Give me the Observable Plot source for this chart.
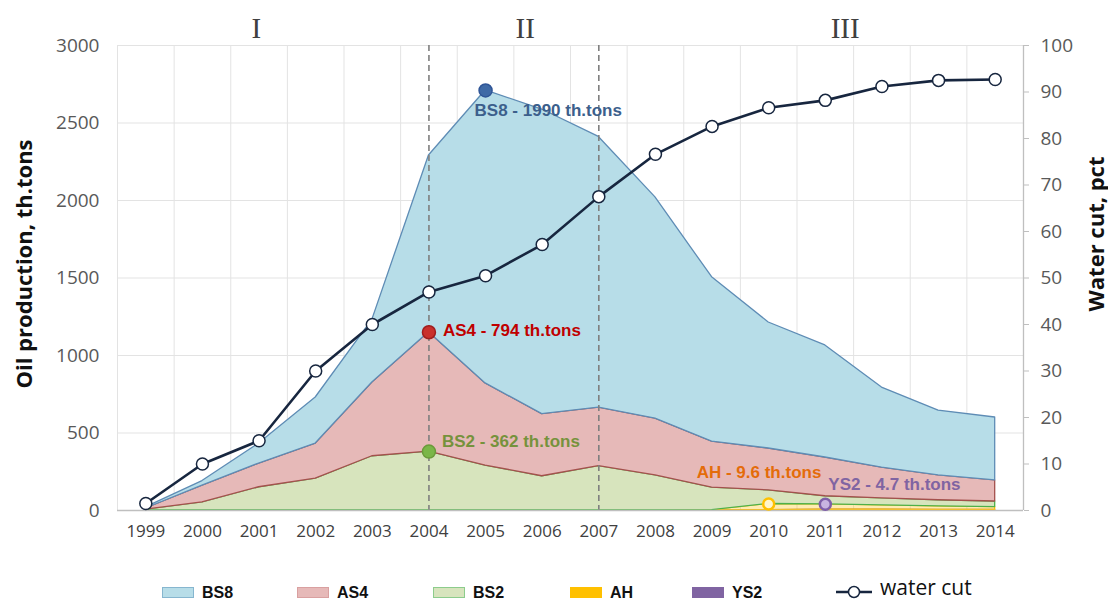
<!DOCTYPE html>
<html>
<head>
<meta charset="utf-8">
<script src="https://cdn.jsdelivr.net/npm/d3@7"></script>
<script src="https://cdn.jsdelivr.net/npm/@observablehq/plot@0.6"></script>
<style>
  html, body { margin: 0; padding: 0; background: #fff; }
  #chart { width: 1108px; height: 560px; }
  #chart svg { display: block; }
  #legend { position: relative; width: 1108px; height: 39px; font-family: "Liberation Sans", Arial, sans-serif; }
  .sw { position: absolute; top: 27px; width: 32px; height: 11px; box-sizing: border-box; }
  .lt { position: absolute; top: 23px; font-weight: bold; font-size: 16px; line-height: 19px; color: #111; }
</style>
</head>
<body>
<div id="chart"></div>
<div id="legend"></div>
<script>
// ---------- data ----------
const years = [1999, 2000, 2001, 2002, 2003, 2004, 2005, 2006, 2007, 2008, 2009, 2010, 2011, 2012, 2013, 2014];
const bs8 = [7, 30, 129, 297, 404, 1140, 1890, 1965, 1746, 1427, 1060, 813, 723, 516, 419, 406];
const as4 = [8, 108, 153, 227, 476, 770, 530, 401, 378, 367, 297, 270, 250, 199, 160, 136];
const bs2 = [5, 52, 150, 205, 350, 380, 290, 221, 286, 226, 145, 88, 52, 45, 39, 36];
const ah  = [0, 0, 0, 0, 0, 0, 0, 0, 0, 0, 3, 40, 35, 28, 23, 18];
const ys2 = [0, 0, 0, 0, 0, 0, 0, 0, 0, 0, 0, 2, 5, 5, 4, 4];
const waterCut = [1.5, 10, 15, 30, 40, 47, 50.5, 57.2, 67.5, 76.6, 82.6, 86.6, 88.2, 91.2, 92.5, 92.7];

const seriesNames = ["BS8", "AS4", "BS2", "AH", "YS2"];
const stackOrder = ["YS2", "AH", "BS2", "AS4", "BS8"];

const annoSeries = ["BS8", "AS4", "BS2", "AH", "YS2"];
const annoYears = [2005, 2004, 2004, 2010, 2011];
const annoLayer = ["BS8", "AS4", "BS2", "AH", "AH"];
const annoLabels = ["BS8 - 1990 th.tons", "AS4 - 794 th.tons", "BS2 - 362 th.tons", "AH - 9.6 th.tons", "YS2 - 4.7 th.tons"];

const phaseLabels = ["I", "II", "III"];
const phaseCenters = [2000.95, 2005.7, 2011.35];
const phaseBounds = [2004, 2007];

const leftTicks = [0, 500, 1000, 1500, 2000, 2500, 3000];
const rightTicks = [0, 10, 20, 30, 40, 50, 60, 70, 80, 90, 100];

// ---------- styles ----------
const fills   = {BS8: "#b7dde8", AS4: "#e6b9b8", BS2: "#d7e4bd", AH: "#ffc000", YS2: "#8064a2"};
const strokes = {BS8: "#5e8cb5", AS4: "#a4504d", BS2: "#4db04a", AH: "#ffc000", YS2: "#8064a2"};
const fillOp  = {BS8: 1, AS4: 1, BS2: 1, AH: 0.3, YS2: 1};
const swBorder = {BS8: "#86b6cf", AS4: "#d9a0a0", BS2: "#8ccc8c", AH: "#ffc000", YS2: "#8064a2"};
const annoText = {BS8: "#3c5f8c", AS4: "#c00000", BS2: "#76923c", AH: "#e46c0a", YS2: "#8064a2"};
const annoDotFill = {BS8: "#3f6aa6", AS4: "#c9302c", BS2: "#7ab648", AH: "#fff5cc", YS2: "#c8b4e0"};
const annoDotStroke = {BS8: "#2f5597", AS4: "#a01e1e", BS2: "#6a9a3a", AH: "#ffc000", YS2: "#7f5fa8"};
const annoDx = {BS8: -11, AS4: 14, BS2: 13, AH: -72, YS2: 3};
const annoDy = {BS8: 20, AS4: -2, BS2: -10, AH: -31, YS2: -20};

// ---------- build stacks ----------
const valuesBy = {BS8: bs8, AS4: as4, BS2: bs2, AH: ah, YS2: ys2};
const cum = years.map(() => 0);
const layers = {};
for (const s of stackOrder) {
  layers[s] = years.map((yr, i) => {
    const y1 = cum[i];
    const y2 = cum[i] + valuesBy[s][i];
    cum[i] = y2;
    return {year: yr, y1, y2, series: s};
  });
}
const scaleK = 3000 / 100; // water cut (pct) -> left axis units
const wc = years.map((yr, i) => ({year: yr, v: waterCut[i] * scaleK}));

const annos = annoSeries.map((s, i) => {
  const idx = years.indexOf(annoYears[i]);
  return {series: s, year: annoYears[i], value: layers[annoLayer[i]][idx].y2, label: annoLabels[i]};
});

const gridX = years.map(y => y - 0.5).concat([years[years.length - 1] + 0.5]);

const FONT = "Open Sans, sans-serif";

const marks = [];
// grid
marks.push(Plot.ruleY(leftTicks.slice(1), {stroke: "#e3e3e3", strokeWidth: 1}));
marks.push(Plot.ruleX(gridX, {stroke: "#e3e3e3", strokeWidth: 1}));
// areas
for (const s of stackOrder) {
  marks.push(Plot.areaY(layers[s], {x: "year", y1: "y1", y2: "y2", fill: fills[s], fillOpacity: fillOp[s], stroke: strokes[s], strokeWidth: 1.3, curve: "linear"}));
}
// phase separators
marks.push(Plot.ruleX(phaseBounds, {stroke: "#7f7f7f", strokeWidth: 1.6, strokeDasharray: "6,4"}));
// axis lines
marks.push(Plot.ruleY([0], {stroke: "#bfbfbf", strokeWidth: 1.3}));
marks.push(Plot.ruleX([gridX[gridX.length - 1]], {stroke: "#bfbfbf", strokeWidth: 1.3}));
// water cut
marks.push(Plot.line(wc, {x: "year", y: "v", stroke: "#17263f", strokeWidth: 2.6}));
marks.push(Plot.dot(wc, {x: "year", y: "v", r: 6, fill: "#fff", stroke: "#17263f", strokeWidth: 1.5}));
// annotations
for (const a of annos) {
  const small = a.series === "AH" || a.series === "YS2";
  marks.push(Plot.dot([a], {x: "year", y: "value", r: small ? 5.5 : 6.5,
    fill: annoDotFill[a.series], stroke: annoDotStroke[a.series], strokeWidth: small ? 2.5 : 1.5}));
  marks.push(Plot.text([a], {x: "year", y: "value", text: "label", textAnchor: "start",
    dx: annoDx[a.series], dy: annoDy[a.series], fill: annoText[a.series], fontWeight: "bold",
    fontSize: 17, fontFamily: "Liberation Sans, Arial, sans-serif"}));
}
// phase labels
marks.push(Plot.text(phaseLabels, {x: (d, i) => phaseCenters[i], y: () => 3000, text: d => d, dy: -17,
  fontSize: 29, fontFamily: "Liberation Serif, DejaVu Serif, serif", fill: "#404040"}));
// axes
marks.push(Plot.axisX({ticks: years, tickFormat: d => String(d), tickSize: 0, tickPadding: 14, fontSize: 17, label: null, fill: "#404040"}));
marks.push(Plot.axisY({ticks: leftTicks, tickFormat: d => String(d), tickSize: 0, tickPadding: 18, fontSize: 19, label: null, fill: "#595959"}));
marks.push(Plot.axisY({anchor: "right", ticks: rightTicks.map(t => t * scaleK), tickFormat: d => String(Math.round(d / scaleK)),
  tickSize: 5, tickPadding: 12, fontSize: 19, label: null, fill: "#595959", stroke: "#bfbfbf"}));
// axis titles
marks.push(Plot.text(["Oil production, th.tons"], {frameAnchor: "left", textAnchor: "middle", rotate: -90, dx: -93, dy: -14,
  fontSize: 22, fontWeight: "bold", fontFamily: FONT, fill: "#111"}));
marks.push(Plot.text(["Water cut, pct"], {frameAnchor: "right", textAnchor: "middle", rotate: -90, dx: 73, dy: -44,
  fontSize: 22, fontWeight: "bold", fontFamily: FONT, fill: "#111"}));

const chart = Plot.plot({
  width: 1108,
  height: 560,
  marginTop: 45,
  marginBottom: 50,
  marginLeft: 117,
  marginRight: 85,
  x: {domain: [gridX[0], gridX[gridX.length - 1]]},
  y: {domain: [0, 3000]},
  style: {fontFamily: FONT, background: "#fff", overflow: "visible"},
  marks
});
document.getElementById("chart").appendChild(chart);

// ---------- legend ----------
const legend = document.getElementById("legend");
const swLeft = {BS8: 162, AS4: 297, BS2: 433, AH: 570, YS2: 692};
for (const s of seriesNames) {
  const sw = document.createElement("div");
  sw.className = "sw";
  sw.style.left = swLeft[s] + "px";
  sw.style.background = fills[s];
  sw.style.border = "1.5px solid " + swBorder[s];
  legend.appendChild(sw);
  const t = document.createElement("div");
  t.className = "lt";
  t.style.left = (swLeft[s] + 40) + "px";
  t.textContent = s;
  legend.appendChild(t);
}
const ns = "http://www.w3.org/2000/svg";
const ls = document.createElementNS(ns, "svg");
ls.setAttribute("width", 40); ls.setAttribute("height", 20);
ls.style.position = "absolute"; ls.style.left = "834px"; ls.style.top = "22px";
ls.innerHTML = '<line x1="2" y1="10" x2="38" y2="10" stroke="#17263f" stroke-width="2.5"/><circle cx="20" cy="10" r="5.5" fill="#fff" stroke="#17263f" stroke-width="1.5"/>';
legend.appendChild(ls);
const wt = document.createElement("div");
wt.className = "lt";
wt.style.left = "880px"; wt.style.top = "19px";
wt.style.fontWeight = "normal"; wt.style.fontSize = "21px"; wt.style.lineHeight = "17px";
wt.style.fontFamily = "Open Sans, sans-serif";
wt.textContent = "water cut";
legend.appendChild(wt);
</script>
</body>
</html>
